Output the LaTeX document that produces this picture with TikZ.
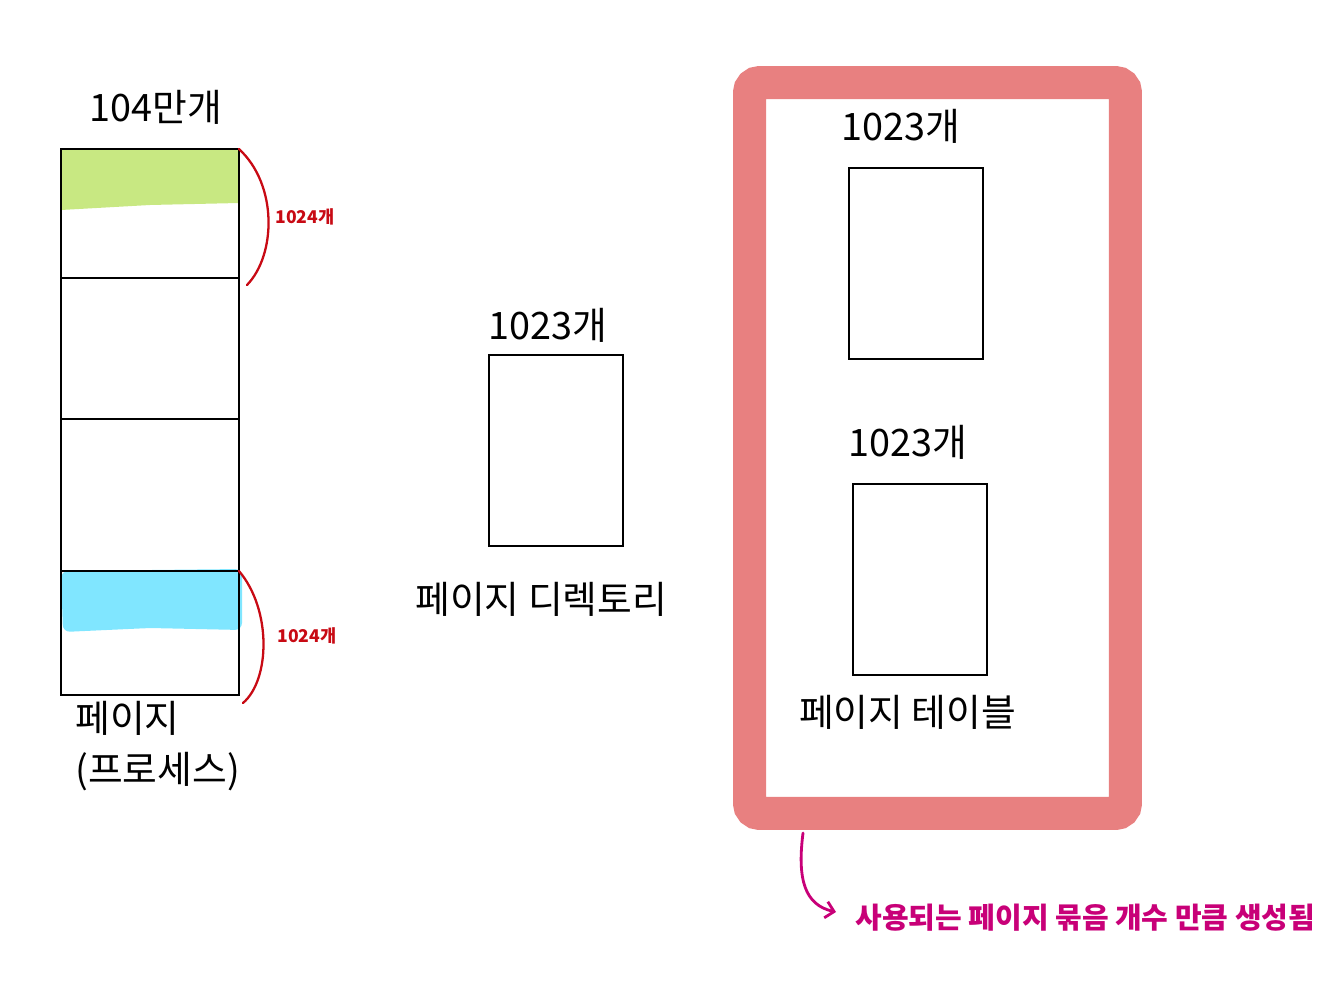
\documentclass[tikz,border=0pt]{standalone}
\usepackage{fontspec}
\setmainfont{Noto Sans CJK KR}
\usetikzlibrary{positioning,arrows.meta}
\definecolor{frameRed}{RGB}{232,128,128}
\definecolor{lightGreen}{RGB}{200,232,130}
\definecolor{lightCyan}{RGB}{128,230,255}
\definecolor{braceRed}{RGB}{200,10,20}
\definecolor{noteMagenta}{RGB}{200,0,120}
\begin{document}
\begin{tikzpicture}[x=0.02cm, y=-0.02cm, >=Straight Barb, font=\fontsize{21.5}{29}\selectfont]

% Styles
\tikzstyle{cell} = [draw, line width=1.4pt, rectangle, inner sep=0pt, outer sep=0pt, anchor=north west, minimum width=3.56cm]
\tikzstyle{table} = [draw, line width=1.4pt, rectangle, inner sep=0pt, anchor=north west, minimum width=2.68cm, minimum height=3.82cm]
\tikzstyle{brace} = [draw=braceRed, line width=1.3pt, line cap=round]
\tikzstyle{count} = [text=braceRed, font=\fontsize{10}{11}\selectfont\bfseries\itshape, inner sep=0pt]

\useasboundingbox (0,0) rectangle (1344,1000);

% Highlights
\fill[lightGreen] (61,149) -- (239,149) -- (239,203) -- (150,205) -- (61,210) -- cycle;
\fill[lightCyan, rounded corners=4pt] (61,571) -- (242,569) -- (242,630) -- (150,628) -- (63,632) -- cycle;

% Nodes - process pages
\node[cell, minimum height=2.58cm] (p1) at (61,149) {};
\node[cell, minimum height=2.82cm] (p2) at (61,278) {};
\node[cell, minimum height=3.04cm] (p3) at (61,419) {};
\node[cell, minimum height=2.48cm] (p4) at (61,571) {};
\node[above=0.36cm of p1.north, xshift=0.12cm] (total) {104만개};
\node[anchor=north west, align=left, inner sep=0pt] (proc) at (75,701) {페이지\\(프로세스)};

% Braces
\draw[brace] (p1.north east) .. controls (278,185) and (276,255) .. (247,285);
\draw[brace] (p4.north east) .. controls (272,610) and (270,680) .. (243,703);
\node[count] (c1) at (305,217) {1024개};
\node[count] (c2) at (307,636) {1024개};

% Nodes - directory
\node[table] (dir) at (488,354) {};
\node[above=0.1cm of dir.north, xshift=-0.16cm] (dirnum) {1023개};
\node[below=0.58cm of dir.south, xshift=-0.3cm] (dirlabel) {페이지 디렉토리};

% Nodes - page tables
\node[draw=frameRed, line width=0.66cm, rounded corners=0.2cm, minimum width=7.52cm, minimum height=14.62cm] (frame) at (937.5,448) {};
\node[table] (t1) at (848,167) {};
\node[table] (t2) at (852,483) {};
\node[above=0.34cm of t1.north, xshift=-0.3cm] (t1num) {1023개};
\node[above=0.34cm of t2.north, xshift=-0.25cm] (t2num) {1023개};
\node[below=0.26cm of t2.south, xshift=-0.25cm] (tlabel) {페이지 테이블};

% Note
\coordinate (start) at (803,833);
\node[anchor=west, text=noteMagenta, font=\fontsize{16.5}{19}\selectfont\bfseries, inner sep=0pt] (note) at (855,918) {사용되는 페이지 묶음 개수 만큼 생성됨};
\draw[->, noteMagenta, line width=1.6pt, line cap=round] (start) .. controls (797,880) and (805,905) .. (836,912);

\end{tikzpicture}
\end{document}
